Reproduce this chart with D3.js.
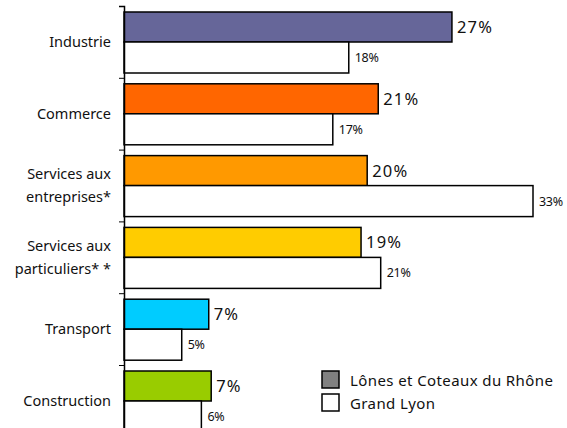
<!DOCTYPE html>
<html>
<head>
<meta charset="utf-8">
<script src="https://cdn.jsdelivr.net/npm/d3@7"></script>
<style>
  body { margin:0; background:#fff; }
  text { font-family: "Noto Sans", "Open Sans", sans-serif; font-weight: 400; fill:#111; }
</style>
</head>
<body>
<div id="chart"></div>
<script>
// categories, top to bottom
var categories = ["Industrie", "Commerce", "Services aux\nentreprises*", "Services aux\nparticuliers* *", "Transport", "Construction"];
var catColours = ["#666699", "#ff6600", "#ff9900", "#ffcc00", "#00ccff", "#99cc00"];

// Lônes et Coteaux du Rhône (coloured bars)
var lonesValues = [26.7, 20.7, 19.8, 19.3, 6.9, 7.1];
var lonesLabels = ["27%", "21%", "20%", "19%", "7%", "7%"];
// Grand Lyon (white bars)
var lyonValues = [18.3, 17.0, 33.3, 20.9, 4.7, 6.3];
var lyonLabels = ["18%", "17%", "33%", "21%", "5%", "6%"];

var seriesNames = ["Lônes et Coteaux du Rhône", "Grand Lyon"];

var w = 567, h = 428;
var padLeft = 124, padTop = 6, bandH = 71.8;

var svg = d3.select("#chart").append("svg")
  .attr("width", w).attr("height", h);

var x = d3.scaleLinear().domain([0, 33.3]).range([padLeft, 533]);
var y = d3.scaleBand().domain(d3.range(categories.length))
  .range([padTop, padTop + bandH * categories.length]).paddingInner(0).paddingOuter(0);

var barH = 30, off = 6;

var g = svg.append("g");

categories.forEach(function(c, i){
  var y0 = y(i) + off;
  // coloured bar
  g.append("rect")
    .attr("x", x(0)).attr("y", y0)
    .attr("width", x(lonesValues[i]) - x(0)).attr("height", barH)
    .attr("fill", catColours[i]).attr("stroke", "#000").attr("stroke-width", 1.5);
  g.append("text")
    .attr("x", x(lonesValues[i]) + 5).attr("y", y0 + 21)
    .attr("font-size", 16.5).attr("letter-spacing", 1.2).text(lonesLabels[i]);
  // white bar
  g.append("rect")
    .attr("x", x(0)).attr("y", y0 + barH)
    .attr("width", x(lyonValues[i]) - x(0)).attr("height", barH + 1)
    .attr("fill", "#fff").attr("stroke", "#000").attr("stroke-width", 1.5);
  g.append("text")
    .attr("x", x(lyonValues[i]) + 6).attr("y", y0 + barH + 20)
    .attr("font-size", 12.5).attr("letter-spacing", -0.3).text(lyonLabels[i]);

  // category label, maybe two lines
  var lines = c.split("\n");
  var cy = y(i) + bandH / 2 + 5;
  var t = g.append("text").attr("text-anchor", "end").attr("font-size", 14.5);
  lines.forEach(function(l, k){
    t.append("tspan").attr("x", 111)
      .attr("y", cy + (k - (lines.length - 1) / 2) * 23)
      .text(l);
  });
});

// axis
var axis = d3.axisLeft(d3.scaleLinear().domain([0, 1]).range([padTop, padTop + bandH * categories.length]))
  .tickValues(d3.range(categories.length + 1).map(function(k){ return k / categories.length; }))
  .tickSize(5).tickFormat("");
svg.append("g").attr("transform", "translate(" + padLeft + ",0)").call(axis)
  .call(function(s){ s.select(".domain").attr("stroke-width", 1.5); });

// legend
var legend = svg.append("g").attr("transform", "translate(322,371)");
seriesNames.forEach(function(n, i){
  legend.append("rect").attr("x", 0).attr("y", i * 23)
    .attr("width", 17).attr("height", 17)
    .attr("fill", i == 0 ? "#808080" : "#fff").attr("stroke", "#000").attr("stroke-width", 1.5);
  legend.append("text").attr("x", 28).attr("y", i * 23 + 15)
    .attr("font-size", 15).attr("letter-spacing", 0.4).text(n);
});
</script>
</body>
</html>
